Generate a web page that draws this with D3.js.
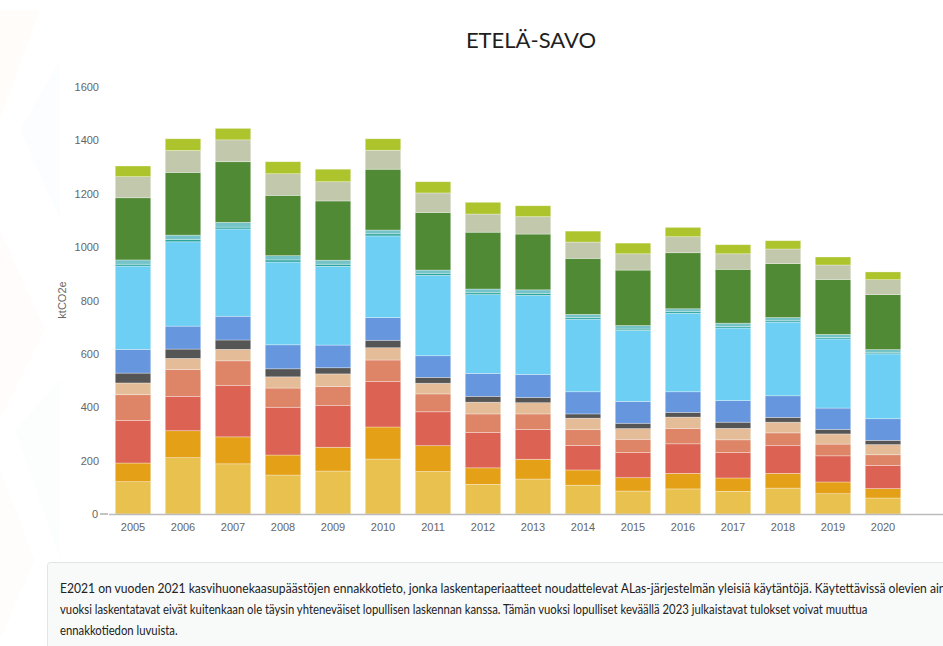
<!DOCTYPE html>
<html>
<head>
<meta charset="utf-8">
<script src="https://cdn.jsdelivr.net/npm/d3@7"></script>
<style>
body { margin: 0; background: #fff; }
svg { display: block; font-family: "Liberation Sans", Arial, sans-serif; }
.y-axis text, .x-axis text { fill: #666; font-size: 11px; }
</style>
</head>
<body>
<svg width="943" height="646"></svg>
<script>
// ****** Data ****** //
var years = ['2005','2006','2007','2008','2009','2010','2011','2012','2013','2014','2015','2016','2017','2018','2019','2020'];
var yTicks = [0, 200, 400, 600, 800, 1000, 1200, 1400, 1600];

// series, bottom to top of each stack (ktCO2e)
var sarja1  = [121, 211, 188, 146, 161, 206, 159, 111, 131, 108, 86, 94, 85, 97, 76, 60];
var sarja2  = [70, 101, 101, 75, 89, 120, 97, 62, 74, 57, 50, 58, 50, 55, 44, 35];
var sarja3  = [159, 129, 192, 179, 156, 170, 127, 133, 112, 92, 94, 111, 95, 104, 98, 87];
var sarja4  = [97, 101, 93, 72, 72, 81, 67, 69, 58, 59, 50, 58, 48, 48, 44, 40];
var sarja5  = [44, 41, 43, 42, 47, 46, 40, 44, 42, 43, 40, 42, 43, 40, 38, 38];
var sarja6  = [37, 35, 35, 30, 23, 28, 22, 22, 20, 16, 20, 18, 23, 18, 17, 16];
var sarja7  = [89, 86, 89, 90, 85, 85, 81, 86, 86, 83, 82, 77, 81, 81, 80, 81];
var sarja8  = [312, 316, 327, 310, 295, 306, 301, 295, 296, 272, 266, 294, 272, 276, 259, 243];
var sarja9  = [7, 9, 7, 8, 8, 8, 8, 7, 8, 6, 5, 6, 5, 5, 5, 4];
var sarja10 = [16, 16, 18, 16, 15, 14, 12, 14, 13, 12, 13, 11, 13, 12, 12, 12];
var sarja11 = [233, 235, 227, 226, 222, 228, 216, 213, 209, 210, 208, 210, 202, 202, 206, 206];
var sarja12 = [79, 82, 82, 81, 72, 71, 73, 68, 65, 61, 61, 60, 58, 55, 54, 56];
var sarja13 = [40, 44, 43, 45, 47, 43, 42, 44, 41, 41, 40, 35, 34, 31, 30, 29];

var seriesList = [sarja1, sarja2, sarja3, sarja4, sarja5, sarja6, sarja7, sarja8, sarja9, sarja10, sarja11, sarja12, sarja13];
var seriesColors = ['#e9c14f', '#e4a017', '#dc6354', '#df8567', '#e4bc97', '#555555', '#6596de',
                    '#6dcff4', '#2ba5a0', '#73c3c8', '#518a35', '#c1c8ab', '#adc42c'];

var noteLines = [
    'E2021 on vuoden 2021 kasvihuonekaasupäästöjen ennakkotieto, jonka laskentaperiaatteet noudattelevat ALas-järjestelmän yleisiä käytäntöjä. Käytettävissä olevien aineistojen',
    'vuoksi laskentatavat eivät kuitenkaan ole täysin yhteneväiset lopullisen laskennan kanssa. Tämän vuoksi lopulliset keväällä 2023 julkaistavat tulokset voivat muuttua',
    'ennakkotiedon luvuista.'
];

var svg = d3.select('svg');

// faint background pattern on the left edge
var bgTris = [
    [[0,10],[40,10],[0,120]], [[20,130],[60,60],[60,220]], [[0,230],[45,330],[0,420]],
    [[15,430],[60,380],[60,560]], [[0,470],[35,560],[0,640]]
];
var bgCols = ['#fbe3d6', '#e3f1f6', '#fbe7dc', '#e8f3f8', '#fdeee4'];
svg.selectAll('.bg-tri')
    .data(bgTris)
    .enter()
    .append('polygon')
    .attr('class', 'bg-tri')
    .attr('points', function(d) { return d.map(function(p) { return p.join(','); }).join(' '); })
    .attr('fill', function(d, i) { return bgCols[i]; })
    .attr('opacity', 0.12);

// title
svg.append('text')
    .attr('x', 531)
    .attr('y', 48)
    .attr('text-anchor', 'middle')
    .style('font-family', 'Lato, "Noto Sans", sans-serif')
    .style('font-size', '22px')
    .style('fill', '#1f1f1f')
    .text('ETELÄ-SAVO');

// scales
var xScale = d3.scaleBand()
    .domain(years)
    .range([108, 908])
    .paddingInner(0.29)
    .paddingOuter(0.145);

var yScale = d3.scaleLinear()
    .domain([0, 1600])
    .range([514, 87]);

// stack
var table = years.map(function(y, i) {
    var row = {year: y};
    seriesList.forEach(function(s, k) { row['s' + k] = s[i]; });
    return row;
});
var keys = seriesList.map(function(s, k) { return 's' + k; });
var stacked = d3.stack().keys(keys)(table);

// y axis labels (no line)
var yAxisG = svg.append('g')
    .attr('class', 'y-axis')
    .attr('transform', 'translate(100,0)')
    .call(d3.axisLeft(yScale).tickValues(yTicks).tickFormat(d3.format('d')).tickSize(0).tickPadding(1));
yAxisG.select('.domain').remove();
yAxisG.selectAll('.tick')
    .filter(function(d) { return d === 0; })
    .select('text')
    .attr('x', -2);
yAxisG.append('line')
    .attr('x1', 0).attr('x2', 8)
    .attr('y1', yScale(0)).attr('y2', yScale(0))
    .attr('stroke', '#888');

svg.append('text')
    .attr('transform', 'translate(' + [66, 300] + ')rotate(-90)')
    .attr('text-anchor', 'middle')
    .style('font-size', '11px')
    .style('fill', '#666')
    .text('ktCO2e');

// bars
var layers = svg.append('g').selectAll('.layer')
    .data(stacked)
    .enter()
    .append('g')
    .attr('class', 'layer')
    .attr('fill', function(d, i) { return seriesColors[i]; });

layers.selectAll('rect')
    .data(function(d) { return d; })
    .enter()
    .append('rect')
    .attr('x', function(d) { return xScale(d.data.year); })
    .attr('width', xScale.bandwidth())
    .attr('y', function(d) { return yScale(d[1]); })
    .attr('height', function(d) { return yScale(d[0]) - yScale(d[1]); })
    .attr('stroke', '#ffffff')
    .attr('stroke-opacity', 0.45)
    .attr('stroke-width', 0.7);

// x axis
svg.append('line')
    .attr('x1', 109).attr('x2', 943)
    .attr('y1', yScale(0) + 0.5).attr('y2', yScale(0) + 0.5)
    .attr('stroke', '#bcbcbc')
    .attr('stroke-width', 1.5);

var xAxisG = svg.append('g')
    .attr('class', 'x-axis')
    .attr('transform', 'translate(0,' + (yScale(0) + 4) + ')')
    .call(d3.axisBottom(xScale).tickSize(0).tickPadding(5));
xAxisG.select('.domain').remove();

// note box
svg.append('rect')
    .attr('x', 47.5).attr('y', 562.5)
    .attr('width', 920).attr('height', 110)
    .attr('rx', 3)
    .attr('fill', '#f8f9f9')
    .attr('stroke', '#e2e5e7');

var noteText = svg.selectAll('.note')
    .data(noteLines)
    .enter()
    .append('text')
    .attr('class', 'note')
    .attr('x', 0)
    .attr('y', 0)
    .style('font-family', 'Lato, "Noto Sans", sans-serif')
    .style('font-size', '14px')
    .style('fill', '#222')
    .text(function(d) { return d; });

// squeeze horizontally to match the condensed typeface of the original
var nodes = noteText.nodes();
var cut = noteLines[0].indexOf('olevien') + 'olevien'.length;
var sx1 = 868 / nodes[0].getSubStringLength(0, cut);
var sx2 = 808 / nodes[1].getComputedTextLength();
noteText.attr('transform', function(d, i) {
    return 'translate(' + [60, 593 + i * 21] + ')scale(' + (i === 0 ? sx1 : sx2) + ',1)';
});
</script>
</body>
</html>
